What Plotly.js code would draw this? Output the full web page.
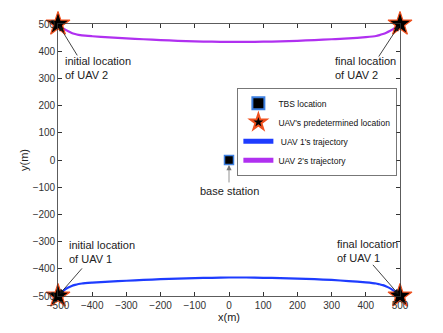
<!DOCTYPE html>
<html>
<head>
<meta charset="utf-8">
<script src="https://cdn.plot.ly/plotly-3.0.1.min.js"></script>
<style>html,body{margin:0;padding:0;background:#fff;}#plot{width:443px;height:333px;}</style>
</head>
<body>
<div id="plot"></div>
<script>
// UAV 1 trajectory
const uav1X = [-500, -490, -480, -470, -460, -450, -440, -430, -400, -350, -300, -250, -200, -150, -100, -50, 0, 50, 100, 150, 200, 250, 300, 350, 400, 430, 440, 450, 460, 470, 480, 490, 500];
const uav1Y = [-500, -488, -477, -469, -463, -459, -456, -454, -451, -447, -444, -441, -438, -436, -434, -433, -432, -432, -433, -434, -436, -438, -441, -445, -450, -454, -457, -460, -465, -471, -479, -489, -500];
// UAV 2 trajectory
const uav2X = [-500, -490, -480, -470, -460, -450, -440, -430, -400, -350, -300, -250, -200, -150, -100, -50, 0, 50, 100, 150, 200, 250, 300, 350, 400, 430, 440, 450, 460, 470, 480, 490, 500];
const uav2Y = [500, 489, 480, 473, 467, 463, 460, 458, 455, 451, 447, 444, 441, 438, 436, 435, 434, 434, 435, 436, 438, 441, 444, 447, 452, 456, 459, 463, 468, 474, 481, 490, 500];
// TBS location
const tbsX = [0];
const tbsY = [0];
// Predetermined UAV locations
const uavPtsX = [-500, 500, -500, 500];
const uavPtsY = [500, 500, -500, -500];
// Tick values
const tickVals = [-500, -400, -300, -200, -100, 0, 100, 200, 300, 400, 500];

const font = "Arial, 'Liberation Sans', sans-serif";

const tbsTrace = {x: tbsX, y: tbsY, type: 'scatter', mode: 'markers', name: 'TBS location', legendrank: 1,
   marker: {symbol: 'square', size: 9, color: '#000', line: {color: '#3d7fe0', width: 1.5}}};
const ptsTrace = {x: uavPtsX, y: uavPtsY, type: 'scatter', mode: 'markers', name: "UAV's predetermined location", legendrank: 2,
   marker: {symbol: 'star', size: 18, color: '#000', line: {color: '#f0501e', width: 1.2}}, cliponaxis: false};
const uav1Trace = {x: uav1X, y: uav1Y, type: 'scatter', mode: 'lines', name: " UAV 1's trajectory", legendrank: 3,
   line: {color: '#1e3cff', width: 2.2, shape: 'spline', smoothing: 0.6}};
const uav2Trace = {x: uav2X, y: uav2Y, type: 'scatter', mode: 'lines', name: "UAV 2's trajectory", legendrank: 4,
   line: {color: '#b030f0', width: 2.2, shape: 'spline', smoothing: 0.6}};

const data = [uav1Trace, uav2Trace, tbsTrace, ptsTrace];

function arrow(x, y, ax, ay, color, standoff) {
  return {x: x, y: y, ax: ax, ay: ay, xref: 'x', yref: 'y', axref: 'x', ayref: 'y',
    text: '', showarrow: true, arrowhead: 2, arrowsize: 1.3, arrowwidth: 0.8,
    arrowcolor: color, standoff: standoff || 0};
}
function label(x, y, txt) {
  return {x: x, y: y, xref: 'x', yref: 'y', text: txt, showarrow: false,
    xanchor: 'left', yanchor: 'middle', align: 'left',
    font: {family: font, size: 11, color: '#222'}};
}

const layout = {
  width: 443, height: 333,
  margin: {l: 58, r: 43, t: 24, b: 37},
  paper_bgcolor: '#fff', plot_bgcolor: '#fff',
  showlegend: true,
  legend: {x: 0.99, y: 0.765, xanchor: 'right', yanchor: 'top',
    bgcolor: '#fff', bordercolor: '#555', borderwidth: 0.8, itemsizing: 'constant',
    font: {family: font, size: 8.5, color: '#111'}, tracegroupgap: 0, itemwidth: 30},
  xaxis: {range: [-500, 500], tickvals: tickVals, ticks: 'inside', ticklen: 4,
    mirror: 'ticks', showline: true, linecolor: '#333', linewidth: 0.8, tickcolor: '#333',
    showgrid: false, zeroline: false,
    tickfont: {family: font, size: 10, color: '#333'},
    title: {text: 'x(m)', font: {family: font, size: 11, color: '#222'}, standoff: 3}},
  yaxis: {range: [-500, 500], tickvals: tickVals, ticks: 'inside', ticklen: 4,
    mirror: 'ticks', showline: true, linecolor: '#333', linewidth: 0.8, tickcolor: '#333',
    showgrid: false, zeroline: false,
    tickfont: {family: font, size: 10, color: '#333'},
    title: {text: 'y(m)', font: {family: font, size: 11, color: '#222'}, standoff: 1}},
  annotations: [
    arrow(-500, 500, -441, 379, '#111', 2),
    arrow(500, 500, 435, 375, '#111', 2),
    arrow(-500, -500, -426, -393, '#111', 2),
    arrow(500, -500, 417, -380, '#111', 2),
    arrow(0, 0, 0, -88, '#777', 5),
    label(-485, 340, 'initial location<br>of UAV 2'),
    label(305, 340, 'final location<br>of UAV 2'),
    label(-473, -340, 'initial location<br>of UAV 1'),
    label(310, -335, 'final location<br>of UAV 1'),
    {x: 0, y: -115, xref: 'x', yref: 'y', text: 'base station', showarrow: false,
     xanchor: 'center', yanchor: 'middle', font: {family: font, size: 11, color: '#222'}}
  ]
};

Plotly.newPlot('plot', data, layout, {staticPlot: true, displayModeBar: false});
</script>
</body>
</html>
